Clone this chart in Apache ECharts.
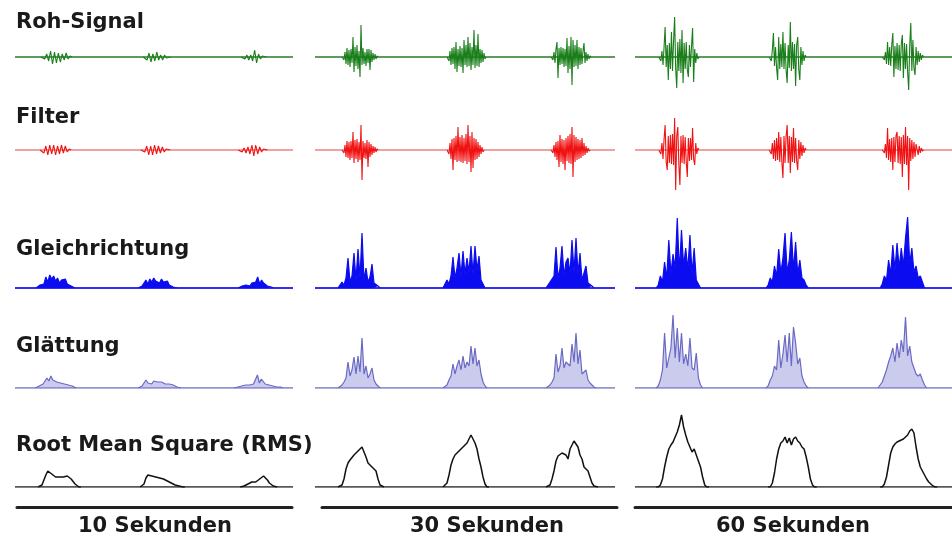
<!DOCTYPE html>
<html><head><meta charset="utf-8">
<script src="https://cdn.jsdelivr.net/npm/echarts@6/dist/echarts.min.js"></script>
<style>html,body{margin:0;padding:0;background:#fff}#c{width:952px;height:541px}</style>
</head><body><div id="c"></div>
<script>
// Row titles and column labels
const rowTitles = ['Roh-Signal','Filter','Gleichrichtung','Glättung','Root Mean Square (RMS)'];
const colLabels = ['10 Sekunden','30 Sekunden','60 Sekunden'];
const durations = [10, 30, 60];          // seconds per column
const oscStep = [0.07, 0.1, 0.2];        // sample spacing (s), raw + filtered rows
const envStep = [0.07, 0.2, 0.4];        // sample spacing (s), rectified/smoothed/RMS rows

// ---- 10 s column: burst start times (s) and sample values ----
const roh10T = [1.0, 4.68, 8.2];
const roh10 = [
 [0.5,-2,3,-4,6,-7,5,-6,4,-5,3,-3,4,-2,1],
 [1,-3,4,-5,3,-4,5,-3,2,-3,2,-1,1],
 [1,-2,2,-3,2,-4,7,-6,3,-2,1,-1]];
const fil10T = [0.97, 4.6, 8.1];
const fil10 = [
 [1,-3,4,-5,5,-4,5,-5,4,-4,5,-3,4,-2,1],
 [1,-2,4,-5,4,-5,5,-4,4,-3,3,-2,1,-1],
 [1,-2,2,-3,3,-4,5,-6,5,-4,3,-2,1,-1]];
const gle10T = [0.83, 4.5, 8.1];
const gle10 = [
 [1,3,5,4,11,6,13,9,12,7,10,5,8,6,9,4,5,2,1],
 [1,2,5,8,4,9,6,10,7,8,5,9,6,4,7,3,2,1,1],
 [1,2,1,3,4,2,5,3,6,11,4,8,5,3,2,1,1]];
const gla10T = [0.8, 4.5, 7.95];
const gla10 = [
 [1,2,3,4,6,10,7,12,8,9,6,8,5,6,4,5,3,2,2,1],
 [1,2,3,8,5,6,4,7,5,6,4,6,5,4,3,4,2,3,2,1,1],
 [1,1,2,2,3,3,4,3,5,4,6,13,5,9,7,4,5,3,2,2,1,1,1,1]];
const rms10T = [0.9, 4.57, 8.17];
const rms10 = [
 [0,2,7,12,16,15,13,11,10,10,10,9,10,10,11,10,8,6,3,1,0],
 [0,3,9,12,12,11,11,10,10,9,8,8,7,6,5,4,3,2,2,1,0,0],
 [0,1,2,3,4,5,5,5,6,8,9,11,10,7,4,2,1,0]];

// ---- 30 s column ----
const roh30T = [2.8, 13.3, 23.7];
const roh30 = [
 [1,-3,5,-7,9,-8,7,-10,8,-6,20,-15,10,-9,12,-12,6,-20,32,-8,9,-7,5,-9,8,-6,8,-13,7,-5,4,-3,3,-2,1],
 [2,-4,6,-8,9,-7,10,-12,15,-15,8,-9,11,-10,9,-16,17,-8,12,-10,20,-9,14,-13,10,-8,27,-11,12,-9,23,-10,8,-6,7,-5,4,-2],
 [1,-3,5,-6,8,15,-21,9,-8,10,-7,9,-10,8,-9,19,-16,11,-12,20,-28,17,-10,12,-9,17,-12,10,-8,9,-7,6,14,-6,5,-4,3,-2,1]];
const fil30T = [2.8, 13.3, 23.7];
const fil30 = [
 [1,-3,5,-7,9,-8,8,-10,9,-8,18,-13,10,-9,11,-12,8,-10,25,-30,9,-8,7,-9,10,-17,8,-7,6,-5,4,-3,3,-2,1],
 [2,-4,7,-9,11,-20,12,-10,14,-12,23,-11,13,-12,15,-13,12,-11,16,-14,25,-12,14,-22,18,-18,12,-10,11,-9,8,-7,5,-4,3,-2],
 [1,-3,5,-7,8,-10,9,-17,15,-12,11,-14,10,-20,12,-11,14,-13,16,-14,23,-27,15,-12,13,-10,11,-9,10,-8,12,-6,7,-5,4,-3,2,-1]];
const gle30T = [2.5, 13.0, 23.3];
const gle30 = [
 [1,6,3,10,30,6,12,35,8,39,10,55,8,20,6,11,24,5,4,2],
 [2,8,4,12,31,10,20,35,12,37,14,30,16,42,14,42,18,32,8,4],
 [2,6,4,12,41,10,20,42,12,26,30,14,48,16,50,14,35,8,10,22,5,4,2]];
const gla30T = [2.5, 13.0, 23.3];
const gla30 = [
 [1,3,6,10,26,12,18,31,14,32,16,50,14,22,10,14,20,8,4,2],
 [1,3,8,12,24,14,22,28,18,32,20,26,22,42,24,40,22,28,14,6,2],
 [1,3,6,10,34,16,22,40,20,26,28,22,44,26,55,24,38,14,12,18,8,5,3,1]];
const rms30T = [2.5, 13.0, 23.3];
const rms30 = [
 [0,2,8,18,24,27,28,32,33,36,36,40,40,30,24,22,20,20,16,8,2,0],
 [0,4,12,22,28,32,34,36,37,40,42,44,48,52,50,44,38,28,20,10,3,0],
 [0,2,8,16,26,31,33,34,35,32,28,38,42,46,47,40,32,28,20,22,16,10,4,1,0]];

// ---- 60 s column ----
const roh60T = [4.7, 25.6, 47.0];
const roh60 = [
 [2,-4,6,-8,10,30,-10,12,-23,14,-12,25,-14,16,40,-12,-31,15,-14,18,-16,27,-26,14,-12,15,-13,-20,12,-10,11,29,-25,8,-6,4,-2],
 [2,-4,7,24,-9,10,-11,-23,20,-12,13,-10,25,-12,14,-13,-26,12,-11,35,-14,15,-12,13,-29,12,20,-13,-23,10,-8,6,-4,2],
 [1,-3,5,-7,15,-8,10,-9,12,24,-20,11,-12,14,-13,12,-14,13,22,-21,14,-12,13,-15,-33,12,34,-14,17,-11,-18,10,-8,6,-5,4,-3,2]];
const fil60T = [4.7, 25.6, 47.0];
const fil60 = [
 [2,-4,7,-9,11,25,-12,-20,14,-13,15,-14,16,-15,32,-40,14,23,-15,-35,14,-13,15,-14,13,-12,-27,12,-11,12,-10,22,-9,-15,7,-4,2],
 [2,-4,7,-9,10,-11,12,-10,18,-12,13,-12,-28,14,-13,14,25,-13,14,-23,13,-12,22,-13,12,-11,-20,10,-9,8,-6,5,-3,2],
 [1,-3,6,-8,22,-10,11,-12,12,-20,13,-12,14,18,-13,14,-14,13,-27,15,-14,23,-15,14,-40,12,-11,10,-9,8,-7,6,5,-5,4,-3,2,-1]];
const gle60T = [4.4, 25.2, 46.8];
const gle60 = [
 [3,12,6,26,10,48,14,34,20,70,16,58,22,40,18,53,14,40,8,4],
 [3,10,6,22,12,39,15,30,55,16,28,56,18,46,14,28,10,8,3],
 [4,12,8,28,14,43,18,45,20,40,22,50,71,24,40,16,22,10,12,6]];
const gla60T = [4.4, 25.2, 46.4];
const gla60 = [
 [2,8,18,55,20,30,40,73,30,60,26,55,24,34,22,50,20,18,35,10,3],
 [2,8,12,22,18,48,20,34,53,26,55,22,61,45,24,30,12,6,2],
 [3,6,12,18,26,32,40,26,45,30,48,36,71,32,42,26,20,14,12,14,8,3]];
const rms60T = [4.4, 25.6, 46.8];
const rms60 = [
 [0,2,8,20,30,38,42,45,50,55,62,72,60,52,45,40,35,38,32,26,20,10,2,0],
 [0,4,14,28,38,44,46,50,44,49,42,48,50,46,44,40,38,30,20,8,2,0],
 [0,3,10,22,34,40,43,45,46,47,48,50,52,56,58,54,40,28,20,16,12,8,5,3,1,0]];

const rowData = [
 [[roh10T,roh10],[roh30T,roh30],[roh60T,roh60]],
 [[fil10T,fil10],[fil30T,fil30],[fil60T,fil60]],
 [[gle10T,gle10],[gle30T,gle30],[gle60T,gle60]],
 [[gla10T,gla10],[gla30T,gla30],[gla60T,gla60]],
 [[rms10T,rms10],[rms30T,rms30],[rms60T,rms60]]
];

// ---- layout & style (not data) ----
const colBox = [{left:15,width:278},{left:315,width:300},{left:635,width:317}];
const barBox = [{left:17,width:275},{left:322,width:295},{left:635,width:317}];
const rowBox = [
 {top:17, height:80, min:-40, max:40},
 {top:110,height:80, min:-40, max:40},
 {top:213,height:75, min:0, max:75},
 {top:313,height:75, min:0, max:75},
 {top:412,height:75, min:0, max:75}
];
const rowStyle = [
 {line:'#1a7f1a', base:'#2a7a2a', w:1.1, bw:1.6},
 {line:'#f01212', base:'#f0a2a2', w:1.1, bw:2},
 {line:'#0c0cf0', base:'#3030f0', w:1.2, bw:1.8, area:'#0c0cf0', ao:1},
 {line:'#6a6ac4', base:'#7070c0', w:1.2, bw:1.4, area:'#8c8cd8', ao:0.45},
 {line:'#111111', base:'#222222', w:1.5, bw:1.5}
];
const titleY = [23,118,250,347,446];
const labelX = [155,487,793];
const FONT = '"DejaVu Sans", sans-serif';

function burstPoints(s, b, step){
  const pts = [[+(s-step).toFixed(3),0]];
  b.forEach((v,i)=>pts.push([+(s+i*step).toFixed(3), v]));
  pts.push([+(s+b.length*step).toFixed(3),0]);
  return pts;
}

const grids=[], xAxes=[], yAxes=[], series=[];
rowBox.forEach((rb,r)=>{
  const st = rowStyle[r];
  colBox.forEach((cb,c)=>{
    const gi = grids.length;
    grids.push({left:cb.left, width:cb.width, top:rb.top, height:rb.height});
    xAxes.push({type:'value', gridIndex:gi, min:0, max:durations[c], show:false});
    yAxes.push({type:'value', gridIndex:gi, min:rb.min, max:rb.max, show:false});
    const [starts,bursts] = rowData[r][c];
    const step = r < 2 ? oscStep[c] : envStep[c];
    // resting level between bursts
    series.push({type:'line', xAxisIndex:gi, yAxisIndex:gi, symbol:'none', silent:true, z:1,
      data:[[0,0],[durations[c],0]], lineStyle:{color:st.base, width:st.bw}});
    bursts.forEach((b,k)=>{
      const s = {type:'line', xAxisIndex:gi, yAxisIndex:gi, symbol:'none', silent:true, z:2,
        data: burstPoints(starts[k], b, step), lineStyle:{color:st.line, width:st.w}};
      if(st.area) s.areaStyle = {color:st.area, opacity:st.ao};
      series.push(s);
    });
  });
});
// scale bars under each column
barBox.forEach((bb,c)=>{
  const gi = grids.length;
  grids.push({left:bb.left, width:bb.width, top:497, height:10});
  xAxes.push({type:'value', gridIndex:gi, min:0, max:durations[c], position:'bottom',
    axisLine:{show:true, lineStyle:{color:'#222', width:3}}, axisTick:{show:false},
    axisLabel:{show:false}, splitLine:{show:false}});
  yAxes.push({type:'value', gridIndex:gi, show:false});
});

const graphics = [];
rowTitles.forEach((t,r)=>graphics.push({type:'text', x:16, y:titleY[r],
  style:{text:t, font:'bold 21px '+FONT, fill:'#1a1a1a', textVerticalAlign:'middle'}}));
colLabels.forEach((t,c)=>graphics.push({type:'text', x:labelX[c], y:527,
  style:{text:t, font:'bold 21px '+FONT, fill:'#1a1a1a', textAlign:'center', textVerticalAlign:'middle'}}));

const chart = echarts.init(document.getElementById('c'), null, {renderer:'canvas'});
chart.setOption({
  animation:false,
  grid:grids, xAxis:xAxes, yAxis:yAxes, series:series, graphic:graphics
});
</script></body></html>
